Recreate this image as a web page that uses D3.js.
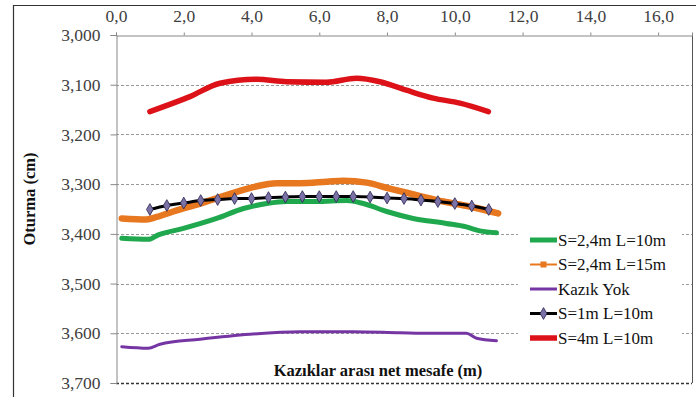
<!DOCTYPE html>
<html><head><meta charset="utf-8">
<script src="https://cdn.jsdelivr.net/npm/d3@7"></script>
<style>body{margin:0;background:#fff}svg{display:block}svg text{font-family:"Liberation Serif","Times New Roman",serif}</style>
</head><body>
<svg id="c" width="696" height="397"></svg>
<script>
const xTicks = [0, 2, 4, 6, 8, 10, 12, 14, 16];
const yTicks = [3.0, 3.1, 3.2, 3.3, 3.4, 3.5, 3.6, 3.7];
const seriesNames = ["S=2,4m L=10m", "S=2,4m L=15m", "Kazık Yok", "S=1m L=10m", "S=4m L=10m"];

const greenX = [0.17, 0.95, 1.25, 1.99, 2.97, 3.76, 4.45, 5.04, 5.92, 6.81, 7.3, 7.99, 8.77, 9.75, 10.34, 10.74, 11.23];
const greenY = [3.409, 3.411, 3.402, 3.389, 3.369, 3.349, 3.339, 3.335, 3.335, 3.333, 3.339, 3.355, 3.369, 3.379, 3.386, 3.394, 3.398];
const orangeX = [0.17, 0.9, 1.2, 1.69, 2.48, 3.26, 4.05, 4.74, 5.43, 6.22, 6.71, 7.4, 8.08, 8.87, 9.66, 10.44, 11.28];
const orangeY = [3.369, 3.371, 3.366, 3.355, 3.339, 3.322, 3.306, 3.298, 3.298, 3.295, 3.293, 3.297, 3.309, 3.322, 3.335, 3.345, 3.359];
const purpleX = [0.17, 0.95, 1.3, 2.48, 3.95, 5.43, 7.0, 8.38, 9.36, 10.34, 10.64, 11.23];
const purpleY = [3.627, 3.630, 3.622, 3.612, 3.602, 3.597, 3.597, 3.599, 3.600, 3.600, 3.610, 3.615];
const blackX = [1.0, 1.5, 2.0, 2.5, 3.0, 3.5, 4.0, 4.5, 5.0, 5.5, 6.0, 6.5, 7.0, 7.5, 8.0, 8.5, 9.0, 9.5, 10.0, 10.5, 11.0];
const blackY = [3.351, 3.343, 3.338, 3.333, 3.331, 3.329, 3.329, 3.327, 3.326, 3.325, 3.325, 3.325, 3.325, 3.326, 3.328, 3.329, 3.332, 3.335, 3.339, 3.344, 3.351];
const redX = [1.0, 2.18, 3.07, 4.15, 5.04, 6.21, 7.1, 7.79, 8.57, 9.36, 10.15, 10.99];
const redY = [3.154, 3.124, 3.097, 3.089, 3.094, 3.095, 3.087, 3.094, 3.111, 3.127, 3.137, 3.154];

const loc = d3.formatLocale({decimal: ",", thousands: ".", grouping: [3], currency: ["", ""]});
const fx = loc.format(".1f"), fy = loc.format(".3f");

const svg = d3.select("#c");
const L = 116, R = 692, T = 35, B = 383;
const x = d3.scaleLinear().domain([0, 17]).range([L, R]);
const y = d3.scaleLinear().domain([3.0, 3.7]).range([T, B]);
const font = "'Liberation Serif', 'Times New Roman', serif";

// outer frame
svg.append("line").attr("x1", 13).attr("x2", 696).attr("y1", 5.5).attr("y2", 5.5).attr("stroke", "#333").attr("stroke-width", 1.2);
svg.append("line").attr("x1", 13.5).attr("x2", 13.5).attr("y1", 5).attr("y2", 397).attr("stroke", "#333").attr("stroke-width", 1.2);

// gridlines
svg.append("g").selectAll("line").data(yTicks.slice(1)).join("line")
  .attr("x1", L).attr("x2", R).attr("y1", d => Math.round(y(d)) + 0.5).attr("y2", d => Math.round(y(d)) + 0.5)
  .attr("stroke", d => d === 3.7 ? "#333" : "#999").attr("stroke-width", d => d === 3.7 ? 1.5 : 1)
  .attr("stroke-dasharray", "3,2");
// right border
svg.append("line").attr("x1", R + 0.5).attr("x2", R + 0.5).attr("y1", T).attr("y2", B).attr("stroke", "#555");

// axes
const gx = svg.append("g").attr("transform", `translate(0,${T + 0.5})`)
  .call(d3.axisTop(x).tickValues(xTicks).tickFormat(fx).tickSize(3).tickPadding(11));
const gy = svg.append("g").attr("transform", `translate(${L + 0.5},0)`)
  .call(d3.axisLeft(y).tickValues(yTicks).tickFormat(fy).tickSize(6).tickPadding(10));
[gx, gy].forEach(g => {
  g.attr("font-family", null);
  g.select(".domain").attr("stroke", "#888");
  g.selectAll(".tick line").attr("stroke", "#888");
  g.selectAll("text").style("font-family", font).style("font-size", "17.5px").attr("fill", "#404040");
});

// series
const line = d3.line().x(d => x(d[0])).y(d => y(d[1])).curve(d3.curveMonotoneX);
const zip = (a, b) => a.map((v, i) => [v, b[i]]);
const series = [
  {name: seriesNames[0], data: zip(greenX, greenY), color: "#1fa84d", w: 5},
  {name: seriesNames[1], data: zip(orangeX, orangeY), color: "#e8781f", w: 6.5, sq: true},
  {name: seriesNames[2], data: zip(purpleX, purpleY), color: "#7536a3", w: 3},
  {name: seriesNames[3], data: zip(blackX, blackY), color: "#000", w: 3, dia: true},
  {name: seriesNames[4], data: zip(redX, redY), color: "#dd1219", w: 5.5},
];
series.forEach(s => {
  svg.append("path").attr("d", line(s.data)).attr("fill", "none")
    .attr("stroke", s.color).attr("stroke-width", s.w).attr("stroke-linecap", "round").attr("stroke-linejoin", "round");
  if (s.dia) {
    svg.append("g").selectAll("path").data(s.data).join("path")
      .attr("d", d3.symbol(d3.symbolDiamond, 40)())
      .attr("transform", d => `translate(${x(d[0])},${y(d[1])})`)
      .attr("fill", "#7b72a6").attr("stroke", "#2a2550").attr("stroke-width", 0.8);
  }
});

// x title
svg.append("text").attr("x", 378).attr("y", 376).attr("text-anchor", "middle")
  .style("font-family", font).style("font-weight", "bold").style("font-size", "16.5px").attr("fill", "#111")
  .text("Kazıklar arası net mesafe (m)");
// y title
svg.append("text").attr("transform", "translate(35,199) rotate(-90)").attr("text-anchor", "middle")
  .style("font-family", font).style("font-weight", "bold").style("font-size", "16.5px").attr("fill", "#111")
  .text("Oturma (cm)");

// legend
const lg = svg.append("g");
lg.append("rect").attr("x", 518).attr("y", 226).attr("width", 164).attr("height", 124).attr("fill", "#fff");
series.forEach((s, i) => {
  const cy = 240 + i * 24.5;
  const g = lg.append("g");
  g.append("line").attr("x1", 530).attr("x2", 557).attr("y1", cy).attr("y2", cy)
    .attr("stroke", s.color).attr("stroke-width", s.sq ? 2 : (s.dia ? 3 : s.w));
  if (s.sq) g.append("rect").attr("x", 540.5).attr("y", cy - 3).attr("width", 6).attr("height", 6).attr("fill", s.color);
  if (s.dia) g.append("path").attr("d", d3.symbol(d3.symbolDiamond, 40)()).attr("transform", `translate(543.5,${cy})`)
    .attr("fill", "#7b72a6").attr("stroke", "#2a2550").attr("stroke-width", 0.8);
  g.append("text").attr("x", 558).attr("y", cy + 5.5).style("font-family", font).style("font-size", "17px").attr("fill", "#111")
    .text(s.name);
});
</script>
</body></html>
